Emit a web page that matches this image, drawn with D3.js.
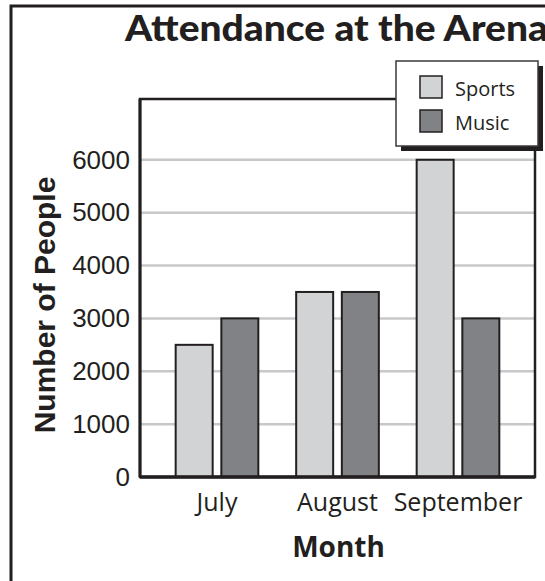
<!DOCTYPE html>
<html>
<head>
<meta charset="utf-8">
<script src="https://cdn.jsdelivr.net/npm/d3@7"></script>
<style>
  html, body { margin: 0; padding: 0; background: #fff; }
  svg { display: block; }
</style>
</head>
<body>
<svg width="545" height="581"></svg>
<script>
// data
const months = ['July', 'August', 'September'];
const seriesNames = ['Sports', 'Music'];
const sports = [2500, 3500, 6000];
const music = [3000, 3500, 3000];
const yTicks = [0, 1000, 2000, 3000, 4000, 5000, 6000];

const colors = { Sports: '#d1d3d4', Music: '#808285' };
const ink = '#231f20';

const rows = months.map((m, i) => ({ month: m, Sports: sports[i], Music: music[i] }));

const svg = d3.select('svg');

// plot box
const plotL = 140, plotR = 535, plotT = 99, plotB = 477;

const x = d3.scaleBand().domain(months).range([plotL, plotR]).paddingInner(0.314).paddingOuter(0.296);
const xs = d3.scaleBand().domain(seriesNames).range([0, x.bandwidth()]).paddingInner(0.19);
const y = d3.scaleLinear().domain([0, 7150]).range([plotB, plotT]);

// outer frame
svg.append('rect')
  .attr('x', 11).attr('y', 6)
  .attr('width', 700).attr('height', 700)
  .attr('fill', 'none').attr('stroke', ink).attr('stroke-width', 3);

// title
svg.append('text')
  .attr('x', 125).attr('y', 41)
  .attr('textLength', 423).attr('lengthAdjust', 'spacingAndGlyphs')
  .style('font-family', 'Lato, "DejaVu Sans", sans-serif')
  .style('font-weight', 900)
  .style('font-size', '36px')
  .attr('fill', ink)
  .text('Attendance at the Arena');

// gridlines
svg.append('g')
  .selectAll('line')
  .data(yTicks.filter(d => d > 0))
  .enter()
  .append('line')
  .attr('x1', plotL).attr('x2', plotR)
  .attr('y1', d => y(d)).attr('y2', d => y(d))
  .attr('stroke', '#c7c8ca').attr('stroke-width', 2.5);

// y axis labels
const yAxis = d3.axisLeft(y).tickValues(yTicks).tickFormat(d3.format('d')).tickSize(0).tickPadding(10);
const yg = svg.append('g')
  .attr('transform', `translate(${plotL},0)`)
  .call(yAxis);
yg.select('.domain').remove();
yg.selectAll('text')
  .style('font-family', '"Liberation Sans", Arial, sans-serif')
  .style('font-size', '26px')
  .attr('fill', ink);

// bars
const groups = svg.selectAll('.grp')
  .data(rows)
  .enter()
  .append('g')
  .attr('class', 'grp')
  .attr('transform', d => `translate(${x(d.month)},0)`);

groups.selectAll('rect')
  .data(d => seriesNames.map(k => ({ key: k, value: d[k] })))
  .enter()
  .append('rect')
  .attr('x', d => xs(d.key))
  .attr('y', d => y(d.value))
  .attr('width', xs.bandwidth())
  .attr('height', d => y(0) - y(d.value))
  .attr('fill', d => colors[d.key])
  .attr('stroke', ink)
  .attr('stroke-width', 2);

// plot frame
svg.append('rect')
  .attr('x', plotL).attr('y', plotT)
  .attr('width', plotR - plotL).attr('height', plotB - plotT)
  .attr('fill', 'none').attr('stroke', ink).attr('stroke-width', 2.5);
svg.append('line')
  .attr('x1', plotL).attr('x2', plotR)
  .attr('y1', y(0)).attr('y2', y(0))
  .attr('stroke', ink).attr('stroke-width', 3.5);
svg.append('line')
  .attr('x1', plotL).attr('x2', plotL)
  .attr('y1', plotT).attr('y2', plotB)
  .attr('stroke', ink).attr('stroke-width', 3);

// x axis labels
const xAxis = d3.axisBottom(x).tickSize(0).tickPadding(16);
const xg = svg.append('g')
  .attr('transform', `translate(0,${plotB})`)
  .call(xAxis);
xg.select('.domain').remove();
xg.selectAll('text')
  .style('font-family', '"Open Sans", sans-serif')
  .style('font-size', '25px')
  .attr('fill', ink);

// axis titles
svg.append('text')
  .attr('x', (plotL + plotR) / 2 + 1).attr('y', 557)
  .attr('text-anchor', 'middle')
  .style('font-family', '"Open Sans", sans-serif')
  .style('font-weight', 700)
  .style('font-size', '28px')
  .attr('fill', ink)
  .text('Month');

svg.append('text')
  .attr('transform', 'translate(55,305) rotate(-90)')
  .attr('text-anchor', 'middle')
  .style('font-family', '"Liberation Sans", Arial, sans-serif')
  .style('font-weight', 700)
  .style('font-size', '30px')
  .attr('fill', ink)
  .text('Number of People');

// legend
const lg = svg.append('g').attr('transform', 'translate(396,61)');
lg.append('rect')
  .attr('x', 5).attr('y', 5)
  .attr('width', 142).attr('height', 85)
  .attr('fill', ink);
lg.append('rect')
  .attr('x', 0).attr('y', 0)
  .attr('width', 142).attr('height', 85)
  .attr('fill', '#fff').attr('stroke', '#3a3a3a').attr('stroke-width', 1.5);

const items = lg.selectAll('.item')
  .data(seriesNames)
  .enter()
  .append('g')
  .attr('class', 'item')
  .attr('transform', (d, i) => `translate(24,${15 + i * 34})`);
items.append('rect')
  .attr('width', 22).attr('height', 22)
  .attr('fill', d => colors[d])
  .attr('stroke', ink).attr('stroke-width', 1.5);
items.append('text')
  .attr('x', 35).attr('y', 20)
  .style('font-family', '"Open Sans", sans-serif')
  .style('font-size', '20px')
  .attr('fill', ink)
  .text(d => d);
</script>
</body>
</html>
